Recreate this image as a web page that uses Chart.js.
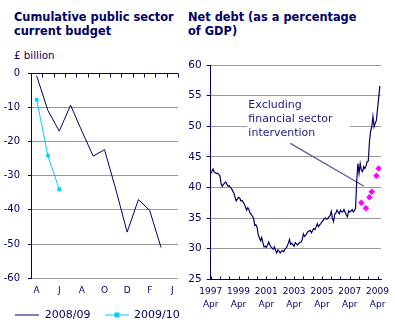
<!DOCTYPE html>
<html>
<head>
<meta charset="utf-8">
<script src="https://cdn.jsdelivr.net/npm/chart.js@4.4.1/dist/chart.umd.min.js"></script>
<style>
  body { margin: 0; width: 395px; height: 329px; background: #fff; position: relative; overflow: hidden;
         font-family: "DejaVu Sans", Verdana, sans-serif; color: #000066; }
  .title { position: absolute; font-weight: bold; font-size: 11.4px; line-height: 14px; white-space: nowrap; }
  .unit { position: absolute; left: 14px; top: 48.5px; font-size: 10.3px; line-height: 12px; }
  canvas { position: absolute; top: 0; }
  #budget-chart { left: 0; }
  #debt-chart { left: 180px; }
</style>
</head>
<body>
<div class="title" style="left:14px; top:10px;">Cumulative public sector<br>current budget</div>
<div class="unit">£ billion</div>
<div class="title" style="left:188px; top:10px;">Net debt (as a percentage<br>of GDP)</div>
<canvas id="budget-chart" width="195" height="340"></canvas>
<canvas id="debt-chart" width="215" height="329"></canvas>
<script>
const NAVY = '#000066';
const GRID = '#999999';

// cumulative public sector current budget, £ billion (Apr onwards)
const budgetMonths = ['A', '', 'J', '', 'A', '', 'O', '', 'D', '', 'F', '', 'J'];
const budget2008 = [-0.8, -11.0, -17.0, -9.4, -17.0, -24.3, -22.4, -34.0, -46.5, -37.0, -40.2, -51.0];
const budget2009 = [-7.8, -24.2, -34.0];
const budgetNames = ['2008/09', '2009/10'];

// net debt, % of GDP, monthly from April 1997
const debtYears = ['1997', '1999', '2001', '2003', '2005', '2007', '2009'];
const debtTickMonths = [0, 8, 16, 24, 32, 40, 48, 56, 64, 72, 80, 88, 96, 104, 112, 120, 128, 136, 144];
const debtValues = [
  42.3, 42.6, 43.0, 42.5, 42.4, 42.3, 42.3, 42.1, 41.9, 40.6, 40.2, 40.5,
  40.7, 40.9, 40.5, 40.2, 40.3, 40.0, 39.8, 39.4, 39.1, 38.4, 37.8, 38.1,
  38.4, 38.3, 37.8, 37.9, 37.6, 37.3, 36.8, 36.3, 36.7, 36.4, 35.8, 35.6,
  35.3, 35.0, 33.8, 33.9, 33.5, 32.3, 31.8, 31.3, 31.8, 31.0, 30.3, 30.4,
  30.2, 30.6, 31.1, 30.6, 30.3, 30.1, 29.9, 30.3, 29.7, 29.3, 29.8, 29.6,
  29.3, 29.6, 29.7, 29.5, 29.9, 30.1, 30.4, 30.9, 31.5, 30.7, 30.9, 30.6,
  30.4, 31.0, 30.8, 30.6, 30.9, 31.0, 31.1, 31.5, 32.4, 32.0, 32.2, 32.5,
  32.8, 32.9, 33.0, 32.6, 33.0, 33.3, 33.1, 33.6, 34.1, 33.6, 33.9, 34.1,
  34.4, 34.6, 34.9, 35.0, 34.8, 34.9, 35.2, 35.4, 36.1, 35.0, 34.4, 35.6,
  35.8, 36.3, 36.0, 35.7, 36.3, 36.0, 36.0, 36.4, 35.9, 35.5, 35.2, 36.2,
  36.0, 36.1, 36.4, 36.0, 36.2, 36.6, 41.0, 43.9, 42.3, 43.9, 42.8, 42.6,
  43.4, 43.1, 43.5, 44.2, 44.3, 47.5, 49.2, 49.9, 51.6, 49.9, 50.5, 51.0,
  52.9, 54.8, 56.6
];
// excluding financial sector intervention (month index from Apr 1997)
const exclMonths = [130, 134, 137, 139, 143, 145];
const exclValues = [37.5, 36.6, 38.4, 39.3, 41.9, 43.1];

const noteLines = ['Excluding', 'financial sector', 'intervention'];

Chart.defaults.font.family = '"DejaVu Sans", Verdana, sans-serif';
Chart.defaults.color = NAVY;
Chart.defaults.animation = false;

// small tick marks drawn inside the plot along the category / time axis
const innerTicks = {
  id: 'innerTicks',
  afterDatasetsDraw(chart, args, opts) {
    const x = chart.scales.x, y = chart.scales.y;
    const ctx = chart.ctx;
    const baseY = Math.round(y.getPixelForValue(opts.atValue)) + 0.5;
    ctx.save();
    ctx.strokeStyle = NAVY;
    ctx.lineWidth = 1;
    ctx.beginPath();
    opts.values(x).forEach(v => {
      const px = Math.round(x.getPixelForValue(v)) + 0.5;
      ctx.moveTo(px, baseY);
      ctx.lineTo(px, baseY + opts.length);
    });
    ctx.stroke();
    ctx.restore();
  }
};

const note = {
  id: 'note',
  beforeDatasetsDraw(chart, args, opts) {
    const x = chart.scales.x, y = chart.scales.y;
    const ctx = chart.ctx;
    ctx.save();
    ctx.fillStyle = '#ffffff';
    const bx0 = x.getPixelForValue(opts.box[0]), bx1 = x.getPixelForValue(opts.box[1]);
    const by0 = y.getPixelForValue(opts.box[2]), by1 = y.getPixelForValue(opts.box[3]);
    ctx.fillRect(bx0, by0, bx1 - bx0, by1 - by0);
    ctx.fillStyle = '#1a1a80';
    ctx.font = '11px "DejaVu Sans", Verdana, sans-serif';
    ctx.textBaseline = 'alphabetic';
    const tx = x.getPixelForValue(opts.text[0]);
    const ty = y.getPixelForValue(opts.text[1]);
    noteLines.forEach((t, i) => ctx.fillText(t, tx, ty + i * 14));
    ctx.strokeStyle = '#5a5aa0';
    ctx.lineWidth = 1.2;
    ctx.beginPath();
    ctx.moveTo(x.getPixelForValue(opts.from[0]), y.getPixelForValue(opts.from[1]));
    ctx.lineTo(x.getPixelForValue(opts.to[0]), y.getPixelForValue(opts.to[1]));
    ctx.stroke();
    ctx.restore();
  }
};

function legendIcon(withMarker, color) {
  const c = document.createElement('canvas');
  c.width = 24;
  c.height = 7;
  const g = c.getContext('2d');
  g.strokeStyle = color;
  g.lineWidth = 1;
  g.beginPath();
  g.moveTo(0, 3.5);
  g.lineTo(24, 3.5);
  g.stroke();
  if (withMarker) {
    g.fillStyle = color;
    g.fillRect(10, 1, 5, 5);
  }
  return c;
}
const legendIcons = [legendIcon(false, NAVY), legendIcon(true, '#00ccff')];

new Chart(document.getElementById('budget-chart'), {
  type: 'line',
  data: {
    labels: budgetMonths,
    datasets: [{
      label: budgetNames[0],
      data: budget2008,
      borderColor: NAVY,
      borderWidth: 1,
      pointRadius: 0,
      tension: 0
    }, {
      label: budgetNames[1],
      data: budget2009,
      borderColor: '#00ccff',
      backgroundColor: '#00ccff',
      borderWidth: 1,
      pointStyle: 'rect',
      pointRadius: 2.5,
      pointBorderWidth: 0,
      tension: 0
    }]
  },
  options: {
    responsive: false,
    layout: { padding: { top: 73, left: 0, right: 0, bottom: 9.5 } },
    scales: {
      x: {
        type: 'category',
        offset: true,
        grid: { display: false, drawTicks: false, tickLength: 0 },
        border: { display: false },
        ticks: { autoSkip: false, maxRotation: 0, padding: 7, font: { size: 9 }, color: NAVY },
        afterFit: s => { s.height = 17.2; }
      },
      y: {
        min: -60,
        max: 0,
        ticks: { stepSize: 10, padding: 8, font: { size: 10 }, color: NAVY },
        grid: {
          color: c => (c.tick && c.tick.value === 0 ? NAVY : GRID),
          tickColor: NAVY,
          tickLength: 3
        },
        border: { color: NAVY },
        afterFit: s => { s.width = 31; }
      },
      spacer: {
        type: 'linear',
        position: 'right',
        grid: { display: false },
        border: { display: false },
        ticks: { display: false },
        afterFit: s => { s.width = 17; }
      }
    },
    plugins: {
      legend: {
        position: 'bottom',
        labels: {
          usePointStyle: true,
          pointStyleWidth: 24,
          padding: 14,
          color: NAVY,
          font: { size: 11 },
          generateLabels(chart) {
            const items = Chart.defaults.plugins.legend.labels.generateLabels(chart);
            items.forEach((it, i) => { it.pointStyle = legendIcons[i]; });
            return items;
          }
        }
      },
      tooltip: { enabled: false },
      innerTicks: {
        atValue: 0,
        length: 4,
        values: x => budgetMonths.map((m, i) => i - 0.5).concat([budgetMonths.length - 0.5])
      }
    }
  },
  plugins: [innerTicks]
});

new Chart(document.getElementById('debt-chart'), {
  type: 'line',
  data: {
    datasets: [{
      label: 'Net debt',
      data: debtValues.map((v, i) => ({ x: i, y: v })),
      borderColor: NAVY,
      borderWidth: 1.2,
      pointRadius: 0,
      tension: 0
    }, {
      label: 'Excluding financial sector intervention',
      data: exclMonths.map((m, i) => ({ x: m, y: exclValues[i] })),
      showLine: false,
      pointStyle: 'rectRot',
      pointRadius: 3.3,
      pointBorderWidth: 0,
      backgroundColor: '#ff00ff',
      borderColor: '#ff00ff'
    }]
  },
  options: {
    responsive: false,
    layout: { padding: { top: 65, left: 0, right: 11, bottom: 0 } },
    scales: {
      x: {
        type: 'linear',
        min: 0,
        max: 147,
        grid: { display: false, drawTicks: false, tickLength: 0 },
        border: { color: NAVY },
        afterBuildTicks: s => { s.ticks = debtTickMonths.map(v => ({ value: v })); },
        ticks: {
          autoSkip: false,
          maxRotation: 0,
          padding: 5.75,
          color: NAVY,
          font: { size: 9, lineHeight: 1.48 },
          callback: v => (v % 24 === 0 ? [debtYears[v / 24], 'Apr'] : '')
        },
        afterFit: s => { s.height = 49.7; }
      },
      y: {
        min: 25,
        max: 60,
        ticks: { stepSize: 5, padding: 5, font: { size: 10.5 }, color: NAVY },
        grid: {
          color: c => (c.tick && c.tick.value === 25 ? NAVY : GRID),
          tickColor: NAVY,
          tickLength: 4
        },
        border: { color: NAVY },
        afterFit: s => { s.width = 30.7; }
      }
    },
    plugins: {
      legend: { display: false },
      tooltip: { enabled: false },
      innerTicks: {
        atValue: 25,
        length: -3,
        values: x => x.ticks.map(t => t.value)
      },
      note: {
        box: [31.5, 120, 54.6, 47.6],
        text: [32.5, 52.9],
        from: [68.7, 47.2],
        to: [132.3, 40.2]
      }
    }
  },
  plugins: [innerTicks, note]
});
</script>
</body>
</html>
